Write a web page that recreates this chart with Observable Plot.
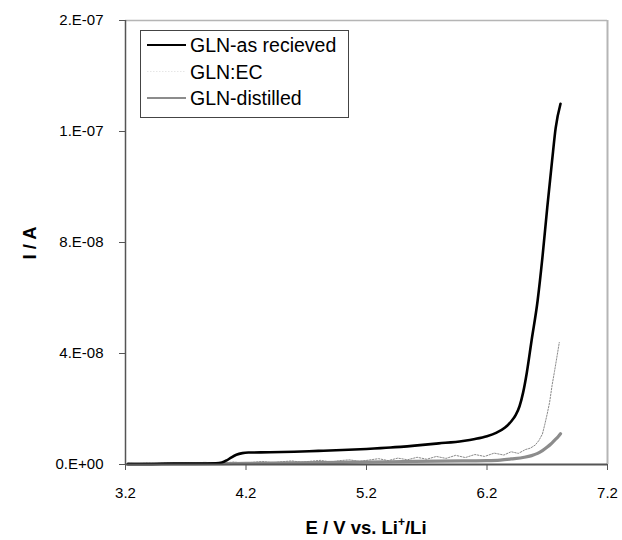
<!DOCTYPE html>
<html><head><meta charset="utf-8">
<script src="https://cdn.jsdelivr.net/npm/d3@7"></script>
<script src="https://cdn.jsdelivr.net/npm/@observablehq/plot@0.6"></script>
<style>body{margin:0;background:#fff}</style>
</head><body><div id="chart"></div>
<script>
// ---- data (current in nA, potential in V vs Li+/Li) ----
const seriesNames = ["GLN-as recieved", "GLN:EC", "GLN-distilled"];

const asRecvE = [3.22,3.40,3.60,3.80,3.95,4.00,4.04,4.08,4.12,4.17,4.22,4.40,4.60,4.80,5.00,5.20,5.40,5.60,5.80,6.00,6.10,6.20,6.28,6.35,6.40,6.44,6.47,6.50,6.53,6.57,6.62,6.66,6.70,6.74,6.77,6.81];
const asRecvI = [0.2,0.2,0.3,0.3,0.4,0.7,1.5,2.6,3.5,4.1,4.3,4.4,4.6,4.9,5.2,5.6,6.1,6.8,7.6,8.5,9.2,10.2,11.5,13.3,15.5,18.0,21.0,26.0,33.0,44.7,59.0,74.6,92.6,109.4,121.3,130.0];

const ecE = [3.22,3.30,3.38,3.46,3.54,3.62,3.70,3.78,3.86,3.94,4.02,4.10,4.18,4.26,4.34,4.42,4.50,4.58,4.66,4.74,4.82,4.90,4.98,5.06,5.14,5.22,5.30,5.38,5.46,5.54,5.62,5.70,5.78,5.86,5.94,6.02,6.10,6.18,6.26,6.34,6.40,6.46,6.52,6.56,6.60,6.63,6.66,6.68,6.70,6.72,6.74,6.76,6.78,6.80];
const ecI = [0.5,0.3,0.6,0.4,0.7,0.4,0.6,0.5,0.8,0.4,0.6,0.9,0.5,0.8,1.1,0.6,1.0,1.3,0.8,1.2,1.5,0.9,1.4,1.7,1.1,1.6,2.1,1.4,2.3,1.7,2.6,1.9,2.9,2.2,3.3,2.5,3.6,2.9,4.1,3.4,4.6,4.0,5.4,5.9,7.0,8.6,11.0,14.5,18.3,22.5,28.5,33.5,38.7,44.0];

const distE = [3.22,3.60,4.00,4.20,4.60,5.00,5.20,5.60,6.00,6.20,6.31,6.40,6.51,6.57,6.62,6.66,6.70,6.73,6.76,6.79,6.81];
const distI = [0.1,0.2,0.3,0.4,0.6,0.8,0.9,1.1,1.3,1.4,1.6,2.0,2.6,3.2,4.0,5.0,6.3,7.4,8.7,10.0,11.1];

const xTicks = [3.2,4.2,5.2,6.2,7.2];
const xTickLabels = ["3.2","4.2","5.2","6.2","7.2"];
const yTicks = [0,4e-8,8e-8,1.2e-7,1.6e-7];
const yTickLabels = ["0.E+00","4.E-08","8.E-08","1.E-07","2.E-07"];

const toRows = (E, I) => E.map((e, i) => ({E: e, I: I[i] * 1e-9}));
const asRecv = toRows(asRecvE, asRecvI);
const ec = toRows(ecE, ecI);
const dist = toRows(distE, distI);

const font = "'Liberation Sans', Arial, sans-serif";
const pick = (ticks, labels) => d => labels[ticks.findIndex(t => Math.abs(t - d) < 1e-12)];

const chart = Plot.plot({
  width: 622, height: 540,
  marginLeft: 125, marginRight: 15, marginTop: 20, marginBottom: 76,
  style: {fontFamily: font, fontSize: "15px", color: "#000", background: "#fff"},
  x: {domain: [3.2, 7.2]},
  y: {domain: [0, 1.6e-7]},
  marks: [
    Plot.ruleY([1.6e-7], {stroke: "#b5b5b5", strokeWidth: 1.5}),
    Plot.ruleX([7.2], {stroke: "#b5b5b5", strokeWidth: 2}),
    Plot.line(dist, {x: "E", y: "I", stroke: "#8c8c8c", strokeWidth: 3.2, curve: "monotone-x"}),
    Plot.line(ec, {x: "E", y: "I", stroke: "#8a8a8a", strokeWidth: 1, strokeDasharray: "1.5,1.5", curve: "linear"}),
    Plot.line(asRecv, {x: "E", y: "I", stroke: "#000", strokeWidth: 2.6, curve: "monotone-x"}),
    Plot.ruleX([3.2], {stroke: "#555", strokeWidth: 1.5}),
    Plot.ruleY([0], {stroke: "#555", strokeWidth: 2}),
    Plot.axisX({ticks: xTicks, tickFormat: pick(xTicks, xTickLabels), tickSize: 6, tickPadding: 17, stroke: "#555", fontSize: 15, label: null}),
    Plot.axisY({ticks: yTicks, tickFormat: pick(yTicks, yTickLabels), tickSize: 6, tickPadding: 16, stroke: "#555", fontSize: 15, label: null})
  ]
});

const svg = d3.select(chart);
// axis titles
svg.append("text")
  .attr("x", 366).attr("y", 534).attr("text-anchor", "middle")
  .style("font-family", font).style("font-weight", "bold").style("font-size", "18.5px")
  .call(t => {
    t.append("tspan").text("E / V vs. Li");
    t.append("tspan").style("font-size", "12px").attr("dy", -8).text("+");
    t.append("tspan").attr("dy", 8).text("/Li");
  });
svg.append("text")
  .attr("transform", "translate(36,243) rotate(-90)").attr("text-anchor", "middle")
  .style("font-family", font).style("font-weight", "bold").style("font-size", "18.5px")
  .text("I / A");

// legend
const lg = svg.append("g");
lg.append("rect").attr("x", 140.5).attr("y", 30.5).attr("width", 208).attr("height", 87)
  .attr("fill", "#fff").attr("stroke", "#444").attr("stroke-width", 1);
const legStyles = [
  {stroke: "#000", w: 2.2, dash: null},
  {stroke: "#e6e6e6", w: 1, dash: "1.5,1.5"},
  {stroke: "#8c8c8c", w: 2.2, dash: null}
];
seriesNames.forEach((name, i) => {
  const y = 45 + i * 26.5;
  const s = legStyles[i];
  const l = lg.append("line").attr("x1", 147).attr("x2", 186).attr("y1", y).attr("y2", y)
    .attr("stroke", s.stroke).attr("stroke-width", s.w);
  if (s.dash) l.attr("stroke-dasharray", s.dash);
  lg.append("text").attr("x", 190).attr("y", y + 7).attr("text-anchor", "start")
    .style("font-family", font).style("font-size", "19.5px").text(name);
});

document.getElementById("chart").appendChild(chart);
</script>
</body></html>
